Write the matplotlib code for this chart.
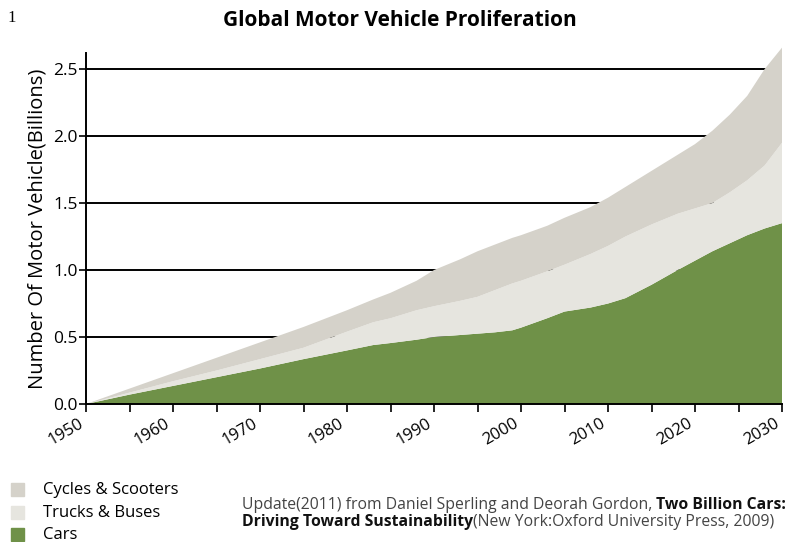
import matplotlib
matplotlib.use("Agg")
import matplotlib.pyplot as plt
from matplotlib.patches import Rectangle
from matplotlib.ticker import MultipleLocator
from matplotlib.transforms import ScaledTranslation

years = [1950, 1955, 1960, 1965, 1970, 1975, 1980, 1983, 1985, 1988, 1990, 1993,
         1995, 1997, 1999, 2000, 2003, 2005, 2008, 2010, 2012, 2015, 2018, 2020,
         2022, 2024, 2026, 2028, 2030]
cars = [0, 0.07, 0.135, 0.20, 0.265, 0.335, 0.40, 0.44, 0.455, 0.48, 0.50, 0.515,
        0.525, 0.535, 0.55, 0.57, 0.64, 0.69, 0.72, 0.75, 0.79, 0.89, 1.00, 1.07,
        1.14, 1.20, 1.26, 1.31, 1.35]
trucks = [0, 0.015, 0.035, 0.05, 0.07, 0.085, 0.14, 0.17, 0.185, 0.22, 0.23, 0.255,
          0.275, 0.315, 0.35, 0.35, 0.35, 0.35, 0.40, 0.43, 0.46, 0.45, 0.42, 0.39,
          0.36, 0.38, 0.41, 0.47, 0.60]
cycles = [0, 0.03, 0.06, 0.095, 0.125, 0.155, 0.16, 0.17, 0.19, 0.22, 0.27, 0.31,
          0.34, 0.34, 0.34, 0.34, 0.34, 0.35, 0.35, 0.36, 0.37, 0.40, 0.44, 0.48,
          0.54, 0.58, 0.63, 0.72, 0.71]

series_names = ["Cycles & Scooters", "Trucks & Buses", "Cars"]
colors = {"Cars": "#6f9148", "Trucks & Buses": "#e6e5df", "Cycles & Scooters": "#d5d2ca"}
yticks = [0.0, 0.5, 1.0, 1.5, 2.0, 2.5]
xticks = [1950, 1960, 1970, 1980, 1990, 2000, 2010, 2020, 2030]

FONT = "Open Sans"
plt.rcParams['font.family'] = [FONT, 'DejaVu Sans']

fig = plt.figure(figsize=(7.92, 5.42), dpi=100)
ax = fig.add_axes([86/792, 1-404/542, (782-86)/792, (404-53)/542])

for y in yticks[1:]:
    ax.axhline(y, color="black", lw=1.4, zorder=1)

polys = ax.stackplot(years, cars, trucks, cycles,
                     colors=[colors["Cars"], colors["Trucks & Buses"], colors["Cycles & Scooters"]],
                     zorder=2, linewidth=0)
for p in polys:
    p.set_clip_on(False)

ax.set_xlim(1950, 2030)
ax.set_ylim(0, 2.62)
ax.set_yticks(yticks)
ax.set_yticklabels([f"{v:.1f}" for v in yticks], fontsize=12.5)
ax.set_xticks(xticks)
ax.set_xticklabels([str(x) for x in xticks], fontsize=12, rotation=30,
                   ha="right", va="top")
off = ScaledTranslation(7/72, 0, fig.dpi_scale_trans)
for lbl in ax.get_xticklabels():
    lbl.set_transform(lbl.get_transform() + off)
ax.xaxis.set_minor_locator(MultipleLocator(5))
ax.tick_params(axis="x", which="both", direction="out", length=6, width=1.2, pad=2)
ax.tick_params(axis="y", direction="out", length=5, width=1.2, pad=1)
for s in ["top", "right"]:
    ax.spines[s].set_visible(False)
for s in ["left", "bottom"]:
    ax.spines[s].set_linewidth(1.4)
    ax.spines[s].set_zorder(5)
ax.set_ylabel("Number Of Motor Vehicle(Billions)", fontsize=14.5, labelpad=4)

fig.text(400/792, 1-20/542, "Global Motor Vehicle Proliferation", fontsize=15,
         fontweight="bold", ha="center", va="center")
fig.text(7/792, 1-18/542, "1", fontsize=12, family="Liberation Serif",
         ha="left", va="center")

# legend
leg_y = [490, 513, 535]
for name, yy in zip(series_names, leg_y):
    fig.add_artist(Rectangle((11/792, 1-(yy+6)/542), 13/792, 13/542,
                             transform=fig.transFigure, color=colors[name]))
    fig.text(43/792, 1-yy/542, name, fontsize=12, ha="left", va="center")

# citation
fig.canvas.draw()
r = fig.canvas.get_renderer()
def pieces(x0, ypx, parts):
    x = x0
    for txt, bold in parts:
        t = fig.text(x, 1-ypx/542, txt, fontsize=11.3, ha="left", va="center",
                     fontweight="bold" if bold else "normal",
                     color="#111111" if bold else "#444444")
        bb = t.get_window_extent(renderer=r)
        x = bb.x1 / fig.bbox.width

pieces(242/792, 505, [("Update(2011) from Daniel Sperling and Deorah Gordon, ", False),
                      ("Two Billion Cars:", True)])
pieces(242/792, 522, [("Driving Toward Sustainability", True),
                      ("(New York:Oxford University Press, 2009)", False)])

fig.savefig("out.png", dpi=100)
